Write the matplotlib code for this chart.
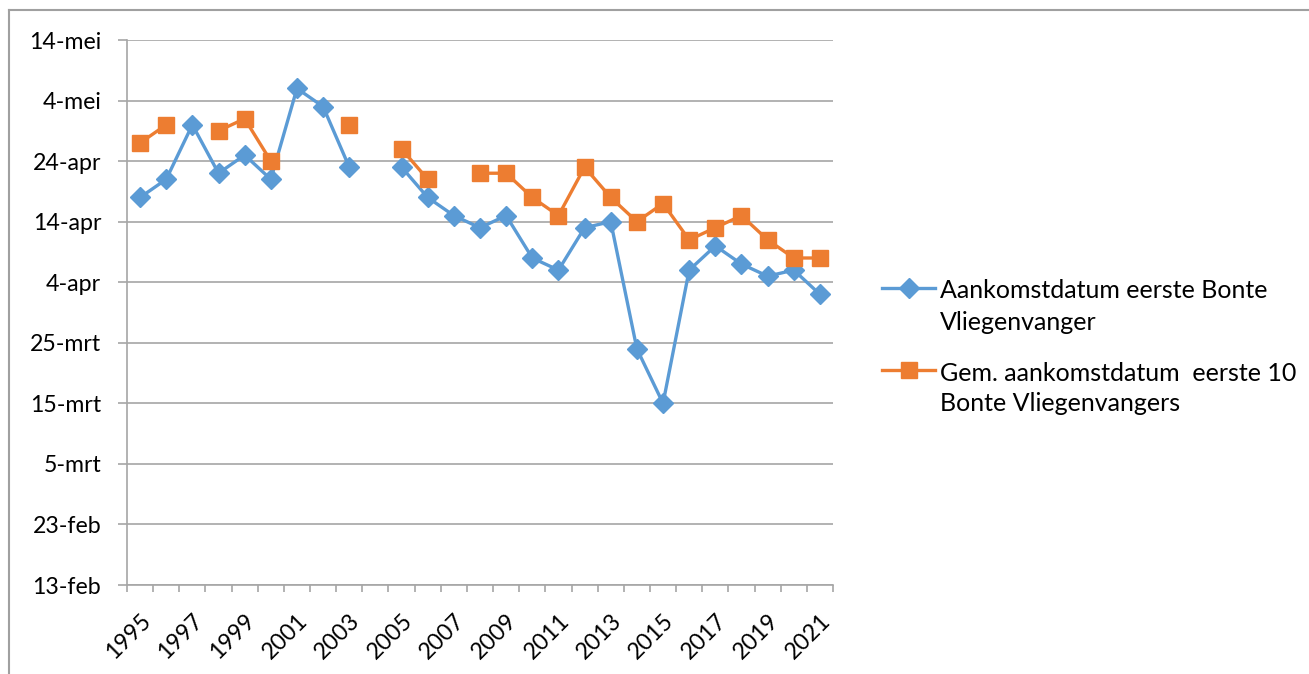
import matplotlib
matplotlib.use("Agg")
import matplotlib.pyplot as plt
import matplotlib.dates as mdates
import matplotlib.transforms as mtransforms
from matplotlib.lines import Line2D
import numpy as np
import datetime as dt

# ---- data ----
years = list(range(1995, 2022))
first_arrival = ["04-18", "04-21", "04-30", "04-22", "04-25", "04-21", "05-06", "05-03", "04-23", None,
                 "04-23", "04-18", "04-15", "04-13", "04-15", "04-08", "04-06", "04-13", "04-14", "03-24",
                 "03-15", "04-06", "04-10", "04-07", "04-05", "04-06", "04-02"]
mean_first10 = ["04-27", "04-30", None, "04-29", "05-01", "04-24", None, None, "04-30", None,
                "04-26", "04-21", None, "04-22", "04-22", "04-18", "04-15", "04-23", "04-18", "04-14",
                "04-17", "04-11", "04-13", "04-15", "04-11", "04-08", "04-08"]
series_labels = ["Aankomstdatum eerste Bonte\nVliegenvanger",
                 "Gem. aankomstdatum  eerste 10\nBonte Vliegenvangers"]
ytick_dates = ["02-13", "02-23", "03-05", "03-15", "03-25", "04-04", "04-14", "04-24", "05-04", "05-14"]
dutch_months = ["jan", "feb", "mrt", "apr", "mei", "jun", "jul", "aug", "sep", "okt", "nov", "dec"]


def to_num(s):
    if s is None:
        return np.nan
    m, d = map(int, s.split("-"))
    return mdates.date2num(dt.datetime(2001, m, d))


y1 = np.array([to_num(s) for s in first_arrival])
y2 = np.array([to_num(s) for s in mean_first10])
x = np.arange(len(years))

plt.rcParams['font.family'] = ['Lato', 'DejaVu Sans']
FS_TICK = 16.7
FS_LEG = 18

fig = plt.figure(figsize=(13.09, 6.74), dpi=100)
W, H = 1309, 674
ax = fig.add_axes([127 / W, 1 - 585 / H, (833 - 127) / W, (585 - 40) / H])

blue = "#5B9BD5"
orange = "#ED7D31"
grid = "#A6A6A6"
styles = [dict(color=blue, marker="D", markersize=10.5), dict(color=orange, marker="s", markersize=12)]

for yv, st in zip([y1, y2], styles):
    ax.plot(x, yv, color=st["color"], lw=2.4, marker=st["marker"], markersize=st["markersize"],
            markeredgecolor=st["color"], zorder=3)

yt = [to_num(s) for s in ytick_dates]
ax.set_ylim(yt[0], yt[-1])
ax.set_yticks(yt)
ax.set_yticklabels([f"{mdates.num2date(v).day}-{dutch_months[mdates.num2date(v).month - 1]}" for v in yt],
                   fontsize=FS_TICK)
ax.yaxis.grid(True, color=grid, lw=1.2)
ax.set_axisbelow(True)

ax.set_xlim(-0.5, len(years) - 0.5)
ax.set_xticks(x[::2])
ax.set_xticklabels([str(y) for y in years[::2]], rotation=45, ha="right", va="top",
                   rotation_mode="anchor", fontsize=FS_TICK)
shift = mtransforms.ScaledTranslation(4 / 100, 0, fig.dpi_scale_trans)
for lab in ax.get_xticklabels():
    lab.set_transform(lab.get_transform() + shift)
ax.set_xticks(np.arange(-0.5, len(years), 1.0), minor=True)
ax.tick_params(axis="x", which="major", length=0, pad=18)
ax.tick_params(axis="x", which="minor", length=5, color=grid, width=1.2)
ax.tick_params(axis="y", length=6.5, color=grid, width=1.2, pad=12)

for s in ["top", "right"]:
    ax.spines[s].set_visible(False)
for s in ["left", "bottom"]:
    ax.spines[s].set_color(grid)
    ax.spines[s].set_linewidth(1.2)

# ---- legend (Excel style: symbol aligned with first text line) ----
def fx(px):
    return px / W


def fy(py):
    return 1 - py / H


handle_y = [288, 370]
baselines = [(298, 330), (381, 411)]
for st, lab, hy, bl in zip(styles, series_labels, handle_y, baselines):
    fig.add_artist(Line2D([fx(882), fx(908.5), fx(935)], [fy(hy)] * 3, color=st["color"], lw=2.4,
                          marker=st["marker"], markersize=st["markersize"], markevery=[1],
                          markeredgecolor=st["color"], transform=fig.transFigure))
    for line, b in zip(lab.split("\n"), bl):
        fig.text(fx(940), fy(b), line, fontsize=FS_LEG, ha="left", va="baseline", color="black")

# outer chart frame (top and left edges visible)
fig.add_artist(Line2D([9 / W, 1.0], [1 - 10 / H, 1 - 10 / H], color="#A0A0A0", lw=1.5,
                      transform=fig.transFigure))
fig.add_artist(Line2D([9 / W, 9 / W], [0, 1 - 10 / H], color="#A0A0A0", lw=1.5,
                      transform=fig.transFigure))

fig.savefig("out.png", dpi=100, facecolor="white")
